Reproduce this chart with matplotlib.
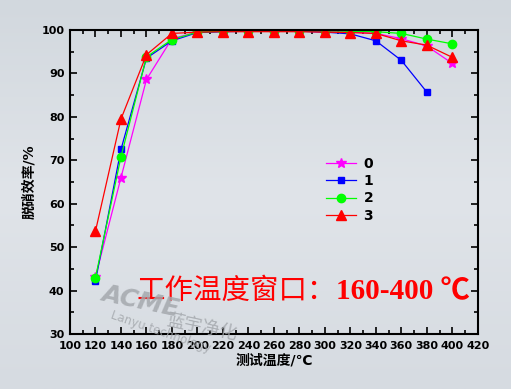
import matplotlib
matplotlib.use('Agg')
import matplotlib.pyplot as plt
from matplotlib.ticker import MultipleLocator
import numpy as np

plt.rcParams['font.family'] = ['DejaVu Sans', 'Noto Sans CJK SC']

temps = [120, 140, 160, 180, 200, 220, 240, 260, 280, 300, 320, 340, 360, 380, 400]
eff_0 = [43.2, 66.0, 88.6, 98.0, 99.5, 99.7, 99.7, 99.7, 99.7, 99.6, 99.5, 99.2, 98.0, 96.3, 92.3]
eff_1 = [42.2, 72.5, 93.5, 97.5, 99.4, 99.6, 99.7, 99.7, 99.7, 99.5, 99.1, 97.5, 93.0, 85.7]
eff_2 = [43.0, 70.8, 93.8, 97.8, 99.5, 99.7, 99.8, 99.8, 99.8, 99.8, 99.7, 99.6, 99.2, 97.9, 96.8]
eff_3 = [53.7, 79.5, 94.3, 99.2, 99.5, 99.6, 99.6, 99.6, 99.6, 99.5, 99.4, 99.2, 97.5, 96.5, 93.7]
labels = ['0', '1', '2', '3']

BG = '#d9dee4'
fig = plt.figure(figsize=(5.11, 3.89), dpi=100, facecolor=BG)
# soft vertical gradient background
grad = np.linspace(0, 1, 256).reshape(-1, 1)
bg_ax = fig.add_axes([0, 0, 1, 1], zorder=-10)
bg_ax.imshow(grad, aspect='auto', cmap=matplotlib.colors.LinearSegmentedColormap.from_list(
    'bg', ['#d2d8de', '#e0e4e9', '#d6dbe1']), extent=[0, 1, 0, 1])
bg_ax.axis('off')

ax = fig.add_axes([0.137, 0.1414, 0.798, 0.7816])
ax.set_facecolor('none')

ax.plot(temps, eff_0, color='#ff00ff', marker='*', ms=7, lw=0.9, label=labels[0])
ax.plot(temps[:len(eff_1)], eff_1, color='#0000ff', marker='s', ms=5, lw=0.9, label=labels[1])
ax.plot(temps, eff_2, color='#00ff00', marker='o', ms=6, lw=0.9, label=labels[2])
ax.plot(temps, eff_3, color='#ff0000', marker='^', ms=7, lw=0.9, label=labels[3])

ax.set_xlim(100, 420)
ax.set_ylim(30, 100)
ax.xaxis.set_major_locator(MultipleLocator(20))
ax.xaxis.set_minor_locator(MultipleLocator(10))
ax.yaxis.set_major_locator(MultipleLocator(10))
ax.yaxis.set_minor_locator(MultipleLocator(5))
ax.tick_params(which='both', direction='in', top=True, right=True, width=1.2)
ax.tick_params(which='major', length=5, labelsize=8)
ax.tick_params(axis='x', which='major', pad=5)
ax.tick_params(axis='y', which='major', pad=4)
ax.tick_params(which='minor', length=3)
for lbl in ax.get_xticklabels() + ax.get_yticklabels():
    lbl.set_fontweight('bold')
for sp in ax.spines.values():
    sp.set_linewidth(1.5)

ax.set_xlabel('测试温度/℃', fontsize=10, fontweight='bold', labelpad=2)
ax.set_ylabel('脱硝效率/%', fontsize=10, fontweight='bold', labelpad=4)

leg = ax.legend(loc='upper left', bbox_to_anchor=(0.614, 0.602), frameon=False,
                prop={'weight': 'bold', 'size': 10}, handlelength=2.2,
                labelspacing=0.25, borderaxespad=0, handletextpad=0.5)

# watermark
wm = '#a4a8ad'
fig.text(0.196, 0.229, 'ACME', fontsize=18, style='italic', fontweight='bold',
         color=wm, alpha=0.85, rotation=-12, rotation_mode='anchor')
fig.text(0.323, 0.165, '蓝宇净化', fontsize=13, color=wm, alpha=0.85,
         rotation=-12, rotation_mode='anchor', family=['Noto Sans CJK SC'])
fig.text(0.215, 0.182, 'Lanyu technology', fontsize=8.5, color=wm,
         alpha=0.85, rotation=-19, rotation_mode='anchor')

# red annotation: CJK part regular, numbers bold serif
t1 = ax.text(0.164, 0.14, '工作温度窗口：', transform=ax.transAxes,
             fontsize=20.5, color='#ff0000', family=['Noto Sans CJK SC'],
             va='center', ha='left')
ax.annotate('160-400 ℃', xy=(1.0, 0.5), xycoords=t1, fontsize=21,
            color='#ff0000', fontweight='bold',
            family=['Liberation Serif', 'Noto Sans CJK SC'],
            va='center', ha='left')

fig.savefig('out.png', dpi=100, facecolor=BG)
